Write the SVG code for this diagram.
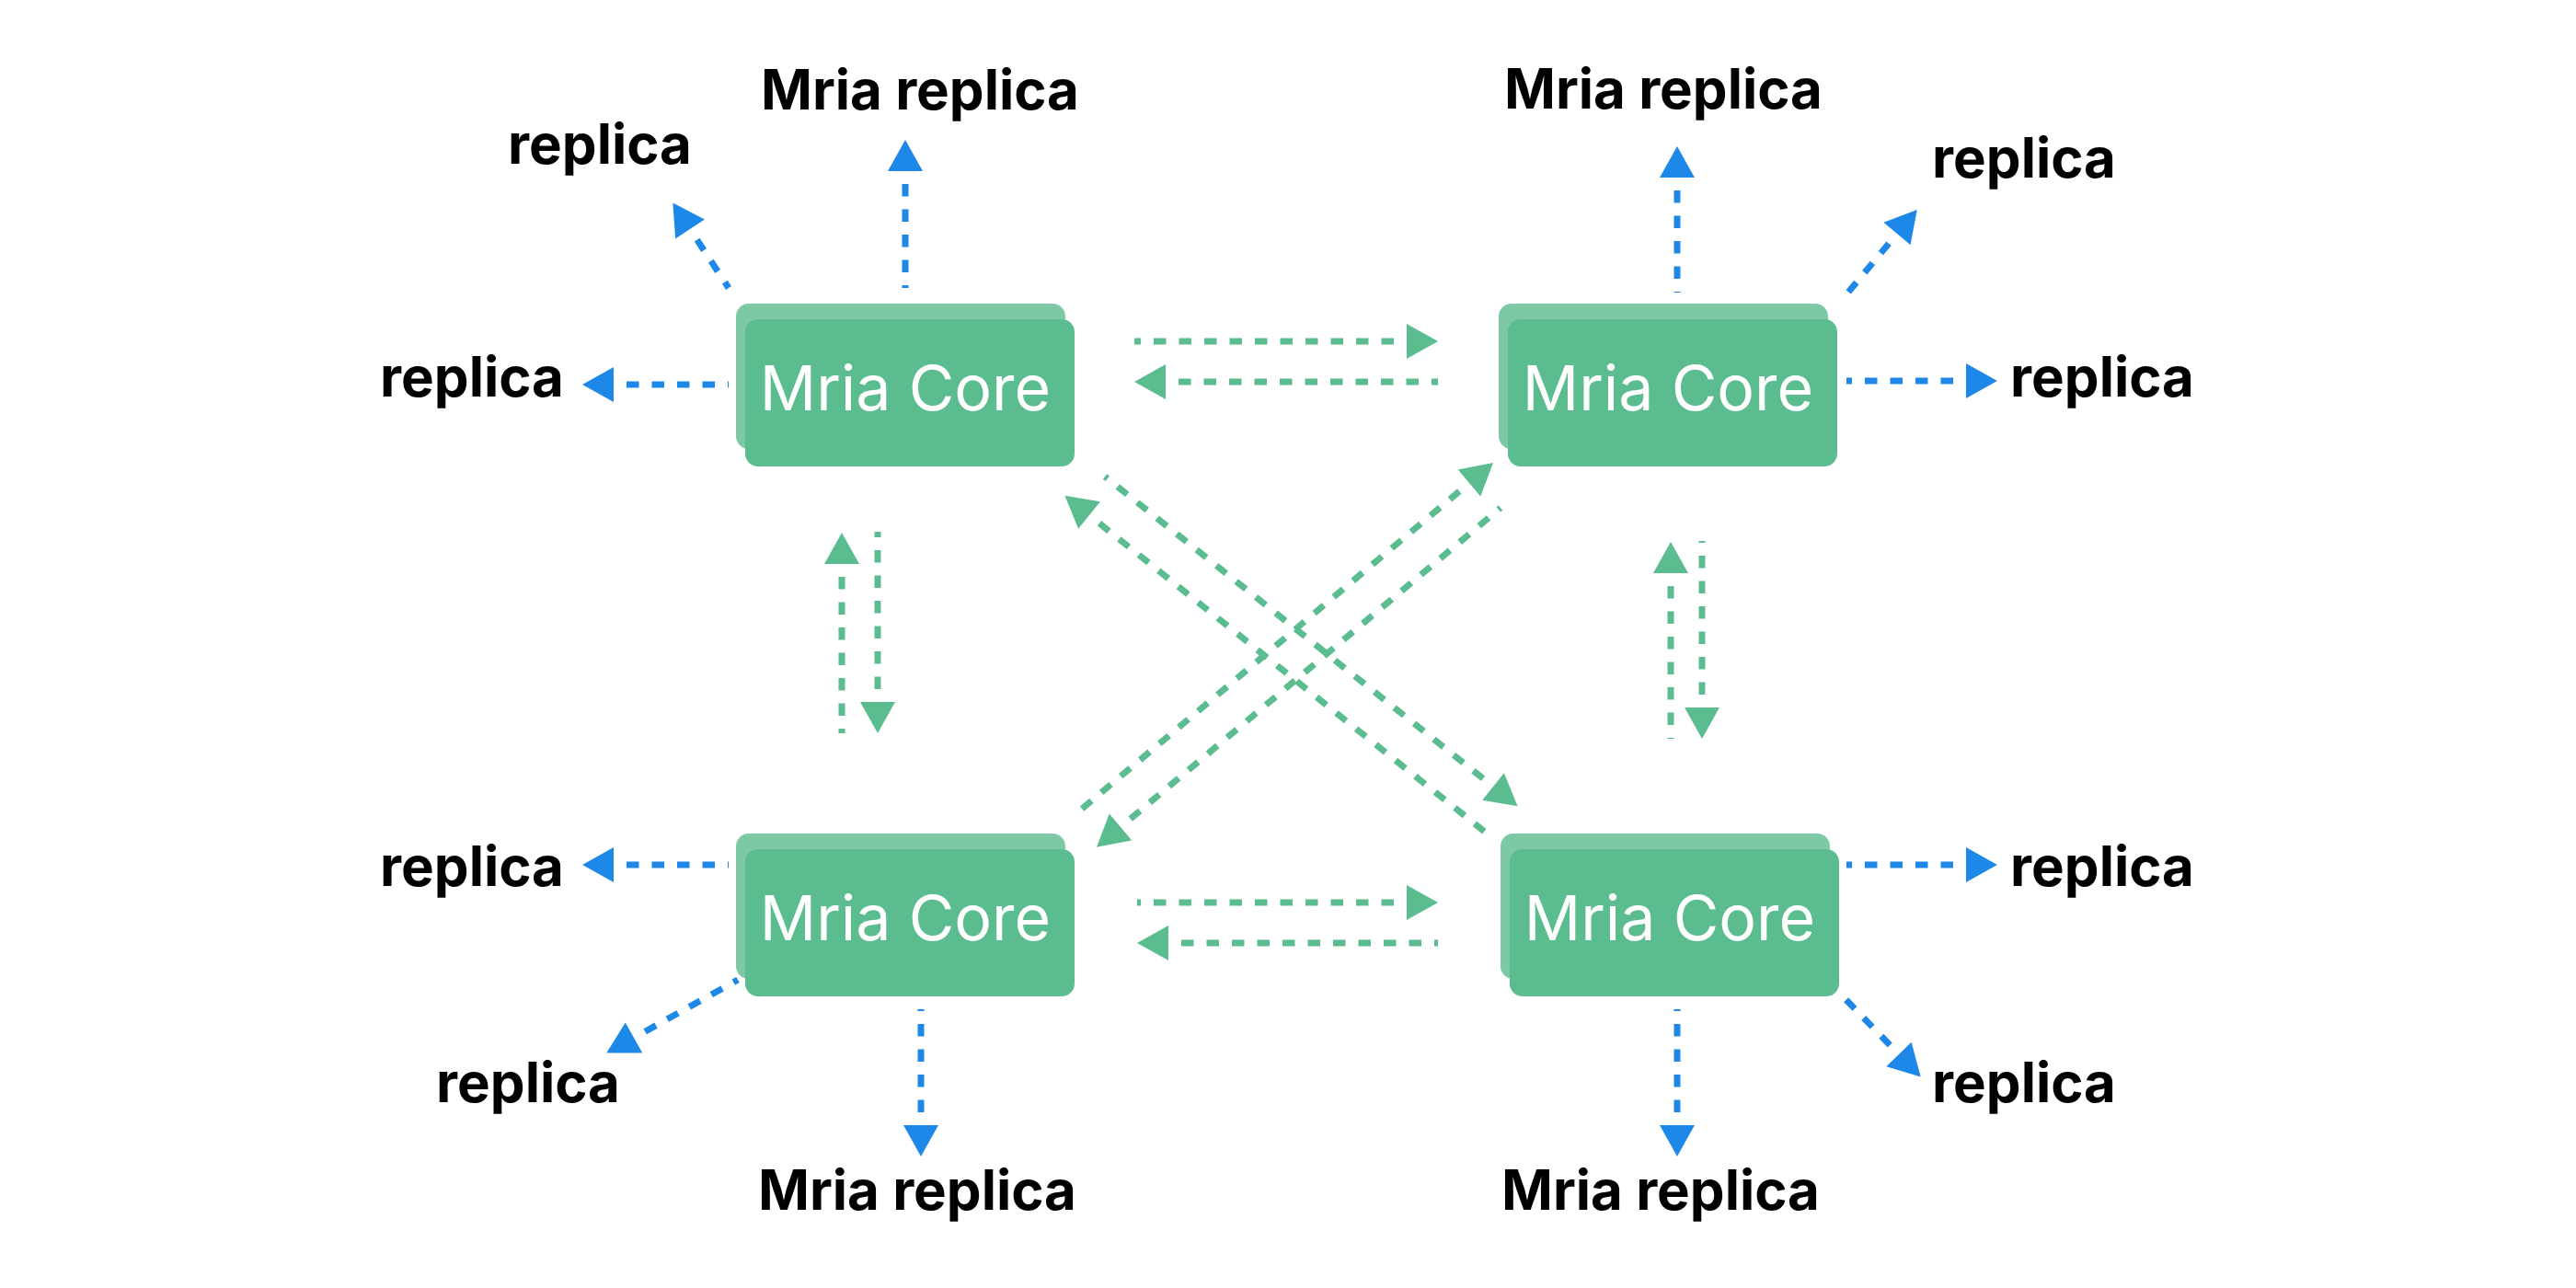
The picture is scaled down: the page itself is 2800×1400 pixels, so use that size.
<svg xmlns="http://www.w3.org/2000/svg" width="2800" height="1400" viewBox="0 0 2800 1400">
<defs>
<style>
.back{fill:#7DC8A5}
.front{fill:#5BBD8F}
.core{font-family:Inter,"Liberation Sans",sans-serif;font-size:68px;font-weight:400;fill:#ffffff;text-anchor:middle}
.lbl{font-family:Inter,"Liberation Sans",sans-serif;font-size:60px;font-weight:700;fill:#000000;text-anchor:middle}
.blue{fill:none;stroke:#1E88E8;stroke-width:7;stroke-dasharray:13.5 14;stroke-dashoffset:13.5;marker-start:url(#ab)}
.green{fill:none;stroke:#5BBD8F;stroke-width:7;stroke-dasharray:13.5 14;stroke-dashoffset:13.5;marker-start:url(#ag)}
</style>
<marker id="ab" markerUnits="userSpaceOnUse" markerWidth="34" markerHeight="38" refX="0" refY="19" orient="auto-start-reverse" overflow="visible"><path d="M0,0 L34,19 L0,38 Z" fill="#1E88E8"/></marker>
<marker id="ag" markerUnits="userSpaceOnUse" markerWidth="34" markerHeight="38" refX="0" refY="19" orient="auto-start-reverse" overflow="visible"><path d="M0,0 L34,19 L0,38 Z" fill="#5BBD8F"/></marker>
</defs>
<rect width="2800" height="1400" fill="#ffffff"/>
<g id="connectors">
<path class="blue" d="M984,186 L984,313"/>
<path class="blue" d="M750,249 L792,313"/>
<path class="blue" d="M667,418 L792,418"/>
<path class="blue" d="M1823,193 L1823,318"/>
<path class="blue" d="M2062,254 L2007,320"/>
<path class="blue" d="M2137,414 L2007,414"/>
<path class="blue" d="M667,940 L792,940"/>
<path class="blue" d="M689,1128 L802,1065"/>
<path class="blue" d="M1001,1223 L1001,1097"/>
<path class="blue" d="M2137,940 L2007,940"/>
<path class="blue" d="M2064,1146 L2003,1083"/>
<path class="blue" d="M1823,1223 L1823,1097"/>
<path class="green" d="M1529,371 L1233,371"/>
<path class="green" d="M1267,415 L1563,415"/>
<path class="green" d="M1529,981 L1236,981"/>
<path class="green" d="M1270,1025 L1563,1025"/>
<path class="green" d="M915,613 L915,797"/>
<path class="green" d="M954,763 L954,578"/>
<path class="green" d="M1816,623 L1816,803"/>
<path class="green" d="M1850,769 L1850,588"/>
<path class="green" d="M1623,855 L1201,518"/>
<path class="green" d="M1184,560 L1615,905"/>
<path class="green" d="M1597,525 L1175,880"/>
<path class="green" d="M1218,899 L1631,552"/>
</g>
<g id="core-tl">
<rect class="back" x="800" y="330" width="358" height="158" rx="14"/>
<rect class="front" x="810" y="347" width="358" height="160" rx="14"/>
<text class="core" x="984" y="446">Mria Core</text>
</g>
<g id="core-tr">
<rect class="back" x="1629" y="330" width="358" height="158" rx="14"/>
<rect class="front" x="1639" y="347" width="358" height="160" rx="14"/>
<text class="core" x="1813" y="446">Mria Core</text>
</g>
<g id="core-bl">
<rect class="back" x="800" y="906" width="358" height="158" rx="14"/>
<rect class="front" x="810" y="923" width="358" height="160" rx="14"/>
<text class="core" x="984" y="1022">Mria Core</text>
</g>
<g id="core-br">
<rect class="back" x="1631" y="906" width="358" height="158" rx="14"/>
<rect class="front" x="1641" y="923" width="358" height="160" rx="14"/>
<text class="core" x="1815" y="1022">Mria Core</text>
</g>
<g id="labels">
<text id="r-tl-top" class="lbl" x="1000" y="119">Mria replica</text>
<text id="r-tl-diag" class="lbl" x="652" y="178">replica</text>
<text id="r-tl-left" class="lbl" x="513" y="431">replica</text>
<text id="r-tr-top" class="lbl" x="1808" y="118">Mria replica</text>
<text id="r-tr-diag" class="lbl" x="2200" y="193">replica</text>
<text id="r-tr-right" class="lbl" x="2285" y="431">replica</text>
<text id="r-bl-left" class="lbl" x="513" y="963">replica</text>
<text id="r-bl-diag" class="lbl" x="574" y="1198">replica</text>
<text id="r-bl-bottom" class="lbl" x="997" y="1315">Mria replica</text>
<text id="r-br-right" class="lbl" x="2285" y="963">replica</text>
<text id="r-br-diag" class="lbl" x="2200" y="1198">replica</text>
<text id="r-br-bottom" class="lbl" x="1805" y="1315">Mria replica</text>
</g>
</svg>
